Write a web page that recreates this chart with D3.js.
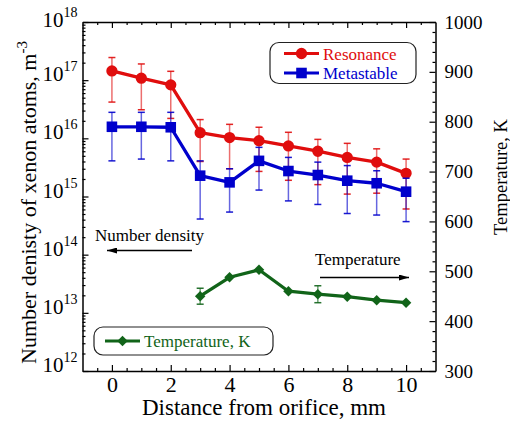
<!DOCTYPE html>
<html>
<head>
<meta charset="utf-8">
<script src="https://cdn.jsdelivr.net/npm/d3@7"></script>
<style>
  html, body { margin: 0; padding: 0; background: #fff; }
  svg { display: block; }
  svg text { font-family: "Liberation Serif", "Times New Roman", serif !important; }
</style>
</head>
<body>
<svg id="chart" width="510" height="423"></svg>
<script>
// Distance from the orifice, mm
const distance = [0, 1, 2, 3, 4, 5, 6, 7, 8, 9, 10];

// Resonance-state xenon number density, m^-3, with error-bar limits
const resonance   = [1.44e17, 1.08e17, 8.3e16, 1.25e16, 1.03e16, 9.1e15, 7.4e15, 6.0e15, 4.7e15, 3.9e15, 2.5e15];
const resonanceHi = [2.45e17, 1.9e17, 1.42e17, 2.1e16, 1.74e16, 1.55e16, 1.27e16, 9.6e15, 8.2e15, 6.6e15, 4.4e15];
const resonanceLo = [4.2e16, 3.1e16, 2.2e16, 4.0e15, 3.0e15, 2.7e15, 1.9e15, 1.6e15, 1.1e15, 1.14e15, 6.1e14];

// Metastable-state xenon number density, m^-3, with error-bar limits
const metastable   = [1.58e16, 1.58e16, 1.55e16, 2.28e15, 1.75e15, 4.1e15, 2.74e15, 2.34e15, 1.87e15, 1.69e15, 1.21e15];
const metastableHi = [2.8e16, 2.8e16, 2.8e16, 4.1e15, 3.0e15, 7.0e15, 4.7e15, 3.9e15, 3.4e15, 2.77e15, 2.06e15];
const metastableLo = [4.1e15, 4.4e15, 4.1e15, 4.1e14, 5.4e14, 1.29e15, 8.4e14, 7.3e14, 5.1e14, 4.8e14, 3.7e14];

// Gas temperature, K (measured from 3 mm onward)
const tempDistance = [3, 4, 5, 6, 7, 8, 9, 10];
const temperature  = [450, 488, 503, 460, 454, 449, 442, 437];
const tempError    = [16, 0, 0, 0, 17, 0, 0, 0];

// Axis ticks
const xMajorTicks = [0, 2, 4, 6, 8, 10];
const densityDecades = [12, 13, 14, 15, 16, 17, 18];
const tempTicks = [300, 400, 500, 600, 700, 800, 900, 1000];

const colors = { red: "#e00d0d", blue: "#0000cc", green: "#116419" };
const serif = "Liberation Serif";

const svg = d3.select("#chart");
const L = 82.5, R = 435.5, T = 22, B = 371;

const x = d3.scaleLinear().domain([-1, 11]).range([L, R]);
const yD = d3.scaleLog().domain([1e12, 1e18]).range([B, T]);
const yT = d3.scaleLinear().domain([300, 1000]).range([B, T]);

// ---- axes ----
const minorX = d3.range(-0.5, 11, 0.5).filter(v => v % 2 !== 0);
const minorLog = [];
for (let e = 12; e < 18; e++) for (let m = 2; m <= 9; m++) minorLog.push(m * Math.pow(10, e));
const minorT = d3.range(300, 1001, 20).filter(v => v % 100 !== 0);

function styleAxis(g) {
  g.attr("font-family", serif);
  g.select(".domain").attr("stroke", "#000").attr("stroke-width", 1.5);
  g.selectAll(".tick line").attr("stroke", "#000").attr("stroke-width", 1.2);
}

// bottom
svg.append("g").attr("transform", `translate(0,${B})`)
  .call(d3.axisBottom(x).tickValues(xMajorTicks).tickSizeInner(-6).tickSizeOuter(0).tickPadding(5)
    .tickFormat(d3.format("d")))
  .call(styleAxis)
  .call(g => g.selectAll(".tick text").attr("font-size", 22).attr("fill", "#000"));
svg.append("g").attr("transform", `translate(0,${B})`)
  .call(d3.axisBottom(x).tickValues(minorX).tickSizeInner(-3).tickSizeOuter(0).tickFormat(""))
  .call(styleAxis).call(g => g.select(".domain").remove());

// top (mirror)
svg.append("g").attr("transform", `translate(0,${T})`)
  .call(d3.axisTop(x).tickValues(xMajorTicks).tickSizeInner(-6).tickSizeOuter(0).tickFormat(""))
  .call(styleAxis);
svg.append("g").attr("transform", `translate(0,${T})`)
  .call(d3.axisTop(x).tickValues(minorX).tickSizeInner(-3).tickSizeOuter(0).tickFormat(""))
  .call(styleAxis).call(g => g.select(".domain").remove());

// left (log density)
svg.append("g").attr("transform", `translate(${L},0)`)
  .call(d3.axisLeft(yD).tickValues(densityDecades.map(e => Math.pow(10, e)))
    .tickSizeInner(-6).tickSizeOuter(0).tickFormat(""))
  .call(styleAxis);
svg.append("g").attr("transform", `translate(${L},0)`)
  .call(d3.axisLeft(yD).tickValues(minorLog).tickSizeInner(-3).tickSizeOuter(0).tickFormat(""))
  .call(styleAxis).call(g => g.select(".domain").remove());

const decLabels = svg.append("g").attr("font-family", serif)
  .selectAll("text").data(densityDecades).join("text")
  .attr("x", L - 5)
  .attr("y", e => yD(Math.pow(10, e)) + (e === 18 ? 5 : 1))
  .attr("text-anchor", "end")
  .attr("fill", "#000");
decLabels.append("tspan").attr("font-size", 21).text("10");
decLabels.append("tspan").attr("font-size", 14).attr("dy", -10).text(e => e);

// right (temperature)
svg.append("g").attr("transform", `translate(${R},0)`)
  .call(d3.axisRight(yT).tickValues(tempTicks).tickSizeInner(-6).tickSizeOuter(0).tickPadding(9)
    .tickFormat(d3.format("d")))
  .call(styleAxis)
  .call(g => g.selectAll(".tick text").attr("font-size", 19).attr("fill", "#000"));
svg.append("g").attr("transform", `translate(${R},0)`)
  .call(d3.axisRight(yT).tickValues(minorT).tickSizeInner(-3).tickSizeOuter(0).tickFormat(""))
  .call(styleAxis).call(g => g.select(".domain").remove());

// axis titles
svg.append("text").attr("x", (L + R) / 2 + 5).attr("y", 415)
  .attr("text-anchor", "middle").attr("font-size", 23).attr("fill", "#000")
  .text("Distance from orifice, mm");

const yTitle = svg.append("text")
  .attr("transform", `translate(36,${(T + B) / 2 + 6}) rotate(-90)`)
  .attr("text-anchor", "middle").attr("font-size", 22).attr("fill", "#000");
yTitle.append("tspan").text("Number denisty of xenon atoms, m");
yTitle.append("tspan").attr("font-size", 15).attr("dy", -9).text("-3");

svg.append("text")
  .attr("transform", `translate(507,${177}) rotate(-90)`)
  .attr("text-anchor", "middle").attr("font-size", 18.5).attr("fill", "#000")
  .text("Temperature, K");

// ---- series ----
function errorBars(xs, lo, hi, color, yScale) {
  const g = svg.append("g").attr("stroke", color).attr("stroke-width", 1.5).attr("stroke-opacity", 0.6);
  xs.forEach((d, i) => {
    if (lo[i] === hi[i]) return;
    const px = x(d);
    const a = yScale(lo[i]), b = yScale(hi[i]);
    g.append("line").attr("x1", px).attr("x2", px).attr("y1", a).attr("y2", b);
    g.append("line").attr("x1", px - 3.5).attr("x2", px + 3.5).attr("y1", a).attr("y2", a).attr("stroke-opacity", 0.9);
    g.append("line").attr("x1", px - 3.5).attr("x2", px + 3.5).attr("y1", b).attr("y2", b).attr("stroke-opacity", 0.9);
  });
}

function seriesLine(xs, ys, yScale, color) {
  svg.append("path")
    .attr("d", d3.line().x((d, i) => x(xs[i])).y(d => yScale(d))(ys))
    .attr("fill", "none").attr("stroke", color).attr("stroke-width", 3.3).attr("stroke-linejoin", "round");
}

function markers(xs, ys, yScale, color, type, size) {
  svg.append("g").selectAll("path").data(ys).join("path")
    .attr("transform", (d, i) => `translate(${x(xs[i])},${yScale(d)})`)
    .attr("d", d3.symbol().type(type).size(size))
    .attr("fill", color);
}

// resonance
errorBars(distance, resonanceLo, resonanceHi, colors.red, yD);
seriesLine(distance, resonance, yD, colors.red);
markers(distance, resonance, yD, colors.red, d3.symbolCircle, 100);

// metastable
errorBars(distance, metastableLo, metastableHi, colors.blue, yD);
seriesLine(distance, metastable, yD, colors.blue);
markers(distance, metastable, yD, colors.blue, d3.symbolSquare, 112);

// temperature
errorBars(tempDistance, temperature.map((t, i) => t - tempError[i]),
  temperature.map((t, i) => t + tempError[i]), colors.green, yT);
seriesLine(tempDistance, temperature, yT, colors.green);
markers(tempDistance, temperature, yT, colors.green, d3.symbolDiamond2, 70);

// ---- annotations ----
const defs = svg.append("defs");
defs.append("marker").attr("id", "arrowhead").attr("viewBox", "0 0 10 6")
  .attr("refX", 10).attr("refY", 3).attr("markerWidth", 10).attr("markerHeight", 6)
  .attr("markerUnits", "userSpaceOnUse").attr("orient", "auto")
  .append("path").attr("d", "M0,0 L10,3 L0,6 Z").attr("fill", "#000");

svg.append("text").attr("x", 95).attr("y", 241).attr("font-size", 17).attr("fill", "#000").text("Number density");
svg.append("line").attr("x1", 192).attr("x2", 107).attr("y1", 250.5).attr("y2", 250.5)
  .attr("stroke", "#000").attr("stroke-width", 1.3).attr("marker-end", "url(#arrowhead)");

svg.append("text").attr("x", 315).attr("y", 265).attr("font-size", 17).attr("fill", "#000").text("Temperature");
svg.append("line").attr("x1", 320).attr("x2", 409).attr("y1", 277.5).attr("y2", 277.5)
  .attr("stroke", "#000").attr("stroke-width", 1.3).attr("marker-end", "url(#arrowhead)");

// ---- legends ----
function legendBox(x0, y0, w, h, entries) {
  const g = svg.append("g");
  g.append("rect").attr("x", x0).attr("y", y0).attr("width", w).attr("height", h)
    .attr("rx", 9).attr("fill", "#fff").attr("stroke", "#222").attr("stroke-width", 1.2);
  entries.forEach(en => {
    g.append("line").attr("x1", en.lx).attr("x2", en.lx + 35).attr("y1", en.y).attr("y2", en.y)
      .attr("stroke", en.color).attr("stroke-width", 3);
    g.append("path").attr("transform", `translate(${en.lx + 17.5},${en.y})`)
      .attr("d", d3.symbol().type(en.symbol).size(en.size)).attr("fill", en.color);
    g.append("text").attr("x", en.lx + 39).attr("y", en.y + 6).attr("font-size", 17)
      .attr("fill", en.color).text(en.label);
  });
}

legendBox(270, 42.5, 146, 41, [
  { lx: 284, y: 53.5, color: colors.red, symbol: d3.symbolCircle, size: 100, label: "Resonance" },
  { lx: 284, y: 73, color: colors.blue, symbol: d3.symbolSquare, size: 112, label: "Metastable" }
]);
legendBox(94, 327, 179, 28, [
  { lx: 105, y: 341, color: colors.green, symbol: d3.symbolDiamond2, size: 70, label: "Temperature, K" }
]);
</script>
</body>
</html>
